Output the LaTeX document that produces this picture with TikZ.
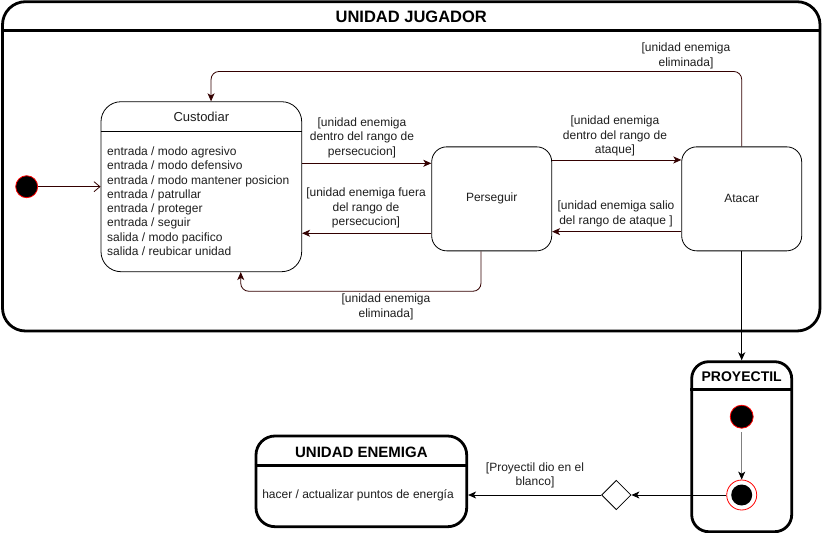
\documentclass[tikz,border=0pt]{standalone}
\usepackage{fontspec}
\setmainfont{Liberation Sans}
\usetikzlibrary{arrows.meta,shapes.geometric}
\definecolor{maroon}{RGB}{51,0,0}
\definecolor{redring}{RGB}{255,0,0}
\definecolor{grayline}{RGB}{128,128,128}
\definecolor{txt}{RGB}{30,30,30}
\begin{document}
\begin{tikzpicture}[x=1pt,y=-1pt,
  container/.style={draw=black, line width=2.8pt, inner sep=0pt, fill=white},
  statebox/.style={draw=black, line width=0.8pt, rounded corners=15pt, inner sep=0pt, fill=white,
    font=\fontsize{12}{14}\selectfont, text=txt},
  lbl/.style={font=\fontsize{12}{14.5}\selectfont, align=center, inner sep=0pt, text=txt},
  ttl/.style={font=\bfseries\fontsize{15}{18}\selectfont, inner sep=0pt},
  sepline/.style={line width=2.8pt},
  marrow/.style={draw=maroon, line width=0.8pt, -{Stealth[length=8pt,width=7pt,inset=2.2pt]}},
  barrow/.style={draw=black, line width=0.8pt, -{Stealth[length=8pt,width=7pt,inset=2.2pt]}},
  initst/.style={circle, fill=black, draw=redring, line width=0.8pt, minimum size=22pt, inner sep=0pt},
]
\useasboundingbox (0,0) rectangle (823,533);

% UNIDAD JUGADOR container
\node[container, rounded corners=23pt, minimum width=817.5pt, minimum height=329.3pt] (uj) at (411.25,166.35) {};
\node[ttl, font=\bfseries\fontsize{16.5}{20}\selectfont] (ujt) at (411.25,17) {UNIDAD JUGADOR};
\draw[sepline] ([yshift=-30pt]uj.north west) -- ([yshift=-30pt]uj.north east);

% Custodiar
\node[statebox, rounded corners=20pt, minimum width=200.7pt, minimum height=170pt] (cust) at (201.35,186.7) {};
\node[font=\fontsize{13}{15}\selectfont, text=txt, inner sep=0pt] (custt) at (201.35,116.7) {Custodiar};
\draw[line width=0.8pt] ([yshift=-30pt]cust.north west) -- ([yshift=-30pt]cust.north east);
\node[lbl, align=left, anchor=west, font=\fontsize{12}{14.28}\selectfont] (custb) at (107,201.2) {entrada / modo agresivo\\entrada / modo defensivo\\entrada / modo mantener posicion\\entrada / patrullar\\entrada / proteger\\entrada / seguir\\salida / modo pacifico\\salida / reubicar unidad};

% Perseguir, Atacar
\node[statebox, minimum width=120pt, minimum height=104pt] (pers) at (491.7,198.85) {Perseguir};
\node[statebox, minimum width=120pt, minimum height=104pt] (atac) at (741.7,198.85) {Atacar};

% initial state
\node[initst] (ini) at (26.7,186.7) {};
\draw[draw=maroon, line width=0.8pt, -{Straight Barb[length=6pt,width=10pt]}] (ini) -- (ini -| cust.west);

% transitions
\draw[marrow] ([yshift=23.4pt]cust.east) -- ([yshift=23.4pt]cust.east -| pers.west);
\draw[marrow] ([yshift=-34.4pt]pers.west) -- ([yshift=-34.4pt]pers.west -| cust.east);
\draw[marrow] ([yshift=38.9pt]pers.east) -- ([yshift=38.9pt]pers.east -| atac.west);
\draw[marrow] ([yshift=-32.8pt]atac.west) -- ([yshift=-32.8pt]atac.west -| pers.east);
\draw[marrow, rounded corners=8pt] (atac.north) -- ([yshift=75pt]atac.north) -| ([xshift=9.7pt]cust.north);
\draw[marrow, rounded corners=8pt] ([xshift=-10.7pt]pers.south) -- ([xshift=-10.7pt,yshift=-40pt]pers.south) -| ([xshift=39.4pt]cust.south);

% labels
\node[lbl] (l1) at (362,137.7) {[unidad enemiga\\dentro del rango de\\persecucion]};
\node[lbl] (l2) at (366,208) {[unidad enemiga fuera\\del rango de\\persecucion]};
\node[lbl] (l3) at (386,307) {[unidad enemiga\\eliminada]};
\node[lbl] (l4) at (615,136) {[unidad enemiga\\dentro del rango de\\ataque]};
\node[lbl] (l5) at (616,214) {[unidad enemiga salio\\del rango de ataque ]};
\node[lbl] (l6) at (686,56) {[unidad enemiga\\eliminada]};

% PROYECTIL
\node[container, rounded corners=17pt, minimum width=100pt, minimum height=170pt] (proy) at (741.7,446.7) {};
\node[ttl, font=\bfseries\fontsize{14}{16}\selectfont] (proyt) at (741.7,377) {PROYECTIL};
\draw[sepline] ([yshift=-29.3pt]proy.north west) -- ([yshift=-29.3pt]proy.north east);
\draw[barrow] (atac.south) -- (proy.north);

\node[initst, minimum size=23pt] (pini) at (741.7,416.7) {};
\node[circle, draw=redring, fill=white, line width=0.8pt, minimum size=30pt, inner sep=0pt] (pfin) at (741.7,495) {};
\node[circle, fill=black, minimum size=21pt, inner sep=0pt] (pfinin) at (pfin.center) {};
\draw[draw=grayline, line width=0.8pt, -{Stealth[length=8pt,width=7pt,inset=2.2pt,color=black]}] ([yshift=-3.5pt]pini.south) -- (pfin.north);

% decision
\node[diamond, draw=black, line width=0.8pt, minimum width=29.4pt, minimum height=29.4pt, inner sep=0pt, fill=white] (dec) at (616.3,495) {};
\draw[barrow] (pfin.west) -- (dec.east);

% UNIDAD ENEMIGA
\node[container, rounded corners=19pt, minimum width=210.7pt, minimum height=90.7pt] (ue) at (361.35,481.35) {};
\node[ttl] (uet) at (361.35,452.7) {UNIDAD ENEMIGA};
\draw[sepline] ([yshift=-30.7pt]ue.north west) -- ([yshift=-30.7pt]ue.north east);
\node[lbl] (ueb) at (358,495) {hacer / actualizar puntos de energía};
\draw[barrow] (dec.west) -- (dec.west -| ue.east);
\node[lbl] (l7) at (535,475.5) {[Proyectil dio en el\\blanco]};
\end{tikzpicture}
\end{document}
